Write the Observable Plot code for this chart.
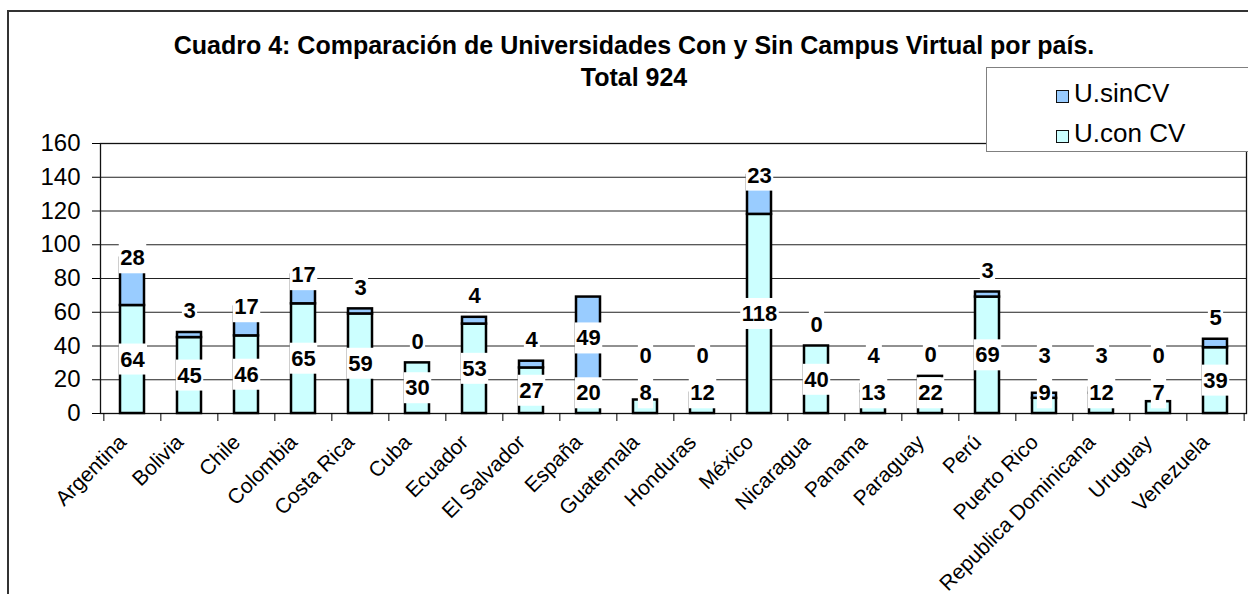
<!DOCTYPE html>
<html>
<head>
<meta charset="utf-8">
<script src="https://cdn.jsdelivr.net/npm/d3@7"></script>
<script src="https://cdn.jsdelivr.net/npm/@observablehq/plot@0.6"></script>
<style>
  body { margin: 0; background: #fff; font-family: "Liberation Sans", Arial, sans-serif; }
  #wrap { position: relative; width: 1248px; height: 594px; overflow: hidden; background: #fff; }
  #chart { position: absolute; left: 0; top: 0; }
  #frame { position: absolute; left: 7px; top: 10px; width: 1300px; height: 700px; border: 2px solid #333; box-sizing: border-box; pointer-events: none; }
  #title { position: absolute; left: 0; top: 29px; width: 1268px; text-align: center; font-weight: bold; font-size: 25px; line-height: 32px; color: #000; }
  #legend { position: absolute; left: 986px; top: 67px; width: 320px; height: 85px; border: 1.5px solid #808080; background: #fff; box-sizing: border-box; }
  .sw { position: absolute; left: 69px; width: 13px; height: 13px; border: 1.5px solid #111; box-sizing: border-box; }
  .lt { position: absolute; left: 87px; font-size: 26px; line-height: 26px; white-space: nowrap; color: #000; }
</style>
</head>
<body>
<div id="wrap">
  <div id="chart"></div>
  <div id="frame"></div>
  <div id="title">Cuadro 4: Comparación de Universidades Con y Sin Campus Virtual por país.<br>Total 924</div>
  <div id="legend"></div>
</div>
<script>
// ---- data ----
const countries = ["Argentina", "Bolivia", "Chile", "Colombia", "Costa Rica", "Cuba", "Ecuador", "El Salvador", "España", "Guatemala", "Honduras", "México", "Nicaragua", "Panama", "Paraguay", "Perú", "Puerto Rico", "Republica Dominicana", "Uruguay", "Venezuela"];
const conCV = [64, 45, 46, 65, 59, 30, 53, 27, 20, 8, 12, 118, 40, 13, 22, 69, 9, 12, 7, 39];
const sinCV = [28, 3, 17, 17, 3, 0, 4, 4, 49, 0, 0, 23, 0, 4, 0, 3, 3, 3, 0, 5];
const seriesNames = ["U.con CV", "U.sinCV"];
const seriesColors = ["#CCFFFF", "#99CCFF"];
const legendOrder = ["U.sinCV", "U.con CV"];
const yTicks = [0, 20, 40, 60, 80, 100, 120, 140, 160];

// ---- layout ----
const W = 1248, H = 594;
const mL = 100, mR = 2, mT = 143, mB = 181;
const step = (W - mL - mR) / countries.length;

const rows = countries.map((c, i) => ({country: c, con: conCV[i], sin: sinCV[i]}));
const stacked = rows.flatMap(r => [
  {country: r.country, serie: seriesNames[0], v: r.con},
  {country: r.country, serie: seriesNames[1], v: r.sin}
]);

function sinLabelY(d) {
  const total = d.con + d.sin;
  if (d.sin >= 40) return d.con + d.sin / 2;
  if (d.sin >= 10) return total;
  return Math.max(total + 12.5, 34);
}
function conLabelY(d) { return Math.max(d.con / 2, 12); }

const font = "'Liberation Sans', Arial, sans-serif";

const chart = Plot.plot({
  width: W, height: H,
  marginLeft: mL, marginRight: mR, marginTop: mT, marginBottom: mB,
  style: {fontFamily: font, fontSize: "24px", background: "none", color: "#000"},
  x: {domain: countries, paddingInner: 0.58, paddingOuter: 0.29, axis: null},
  y: {domain: [0, 160], axis: null},
  color: {domain: seriesNames, range: seriesColors},
  marks: [
    Plot.gridY(yTicks, {stroke: "#222", strokeOpacity: 1, strokeWidth: 1}),
    Plot.frame({stroke: "#111", strokeWidth: 1.3}),
    Plot.axisY({ticks: yTicks, tickSize: 8, tickPadding: 12, fontSize: 24, label: null, stroke: "#000"}),
    Plot.ruleX(countries, {x: d => d, y1: 0, y2: 0, dx: -step / 2, insetBottom: -8, stroke: "#000", strokeWidth: 1}),
    Plot.ruleX(countries.slice(-1), {x: d => d, y1: 0, y2: 0, dx: step / 2, insetBottom: -8, stroke: "#000", strokeWidth: 1}),
    Plot.barY(stacked, {x: "country", y: "v", fill: "serie", stroke: "#000", strokeWidth: 2.5}),
    Plot.text(rows, {x: "country", y: conLabelY, text: d => String(d.con), fontWeight: "bold", fontSize: 22, fill: "#000"}),
    Plot.text(rows, {x: "country", y: sinLabelY, text: d => String(d.sin), fontWeight: "bold", fontSize: 22, fill: "#000"}),
    Plot.text(countries, {x: d => d, frameAnchor: "bottom", rotate: -45, textAnchor: "end", lineAnchor: "bottom", dx: -5, dy: 30, fontSize: 21, fill: "#000"})
  ]
});
document.getElementById("chart").append(chart);

// white boxes behind the data labels
chart.querySelectorAll('g[font-weight="bold"] text').forEach(t => {
  const b = t.getBBox();
  const r = document.createElementNS("http://www.w3.org/2000/svg", "rect");
  r.setAttribute("x", b.x - 1.5);
  r.setAttribute("y", b.y - 3);
  r.setAttribute("width", b.width + 3);
  r.setAttribute("height", b.height + 6);
  r.setAttribute("fill", "#fff");
  r.setAttribute("stroke", "none");
  const tr = t.getAttribute("transform");
  if (tr) r.setAttribute("transform", tr);
  t.parentNode.insertBefore(r, t);
});

// legend
const leg = document.getElementById("legend");
legendOrder.forEach((name, i) => {
  const sw = document.createElement("div");
  sw.className = "sw";
  sw.style.top = (21.5 + i * 40) + "px";
  sw.style.background = seriesColors[seriesNames.indexOf(name)];
  const lt = document.createElement("div");
  lt.className = "lt";
  lt.style.top = (11.6 + i * 40) + "px";
  lt.textContent = name;
  leg.append(sw, lt);
});
</script>
</body>
</html>
